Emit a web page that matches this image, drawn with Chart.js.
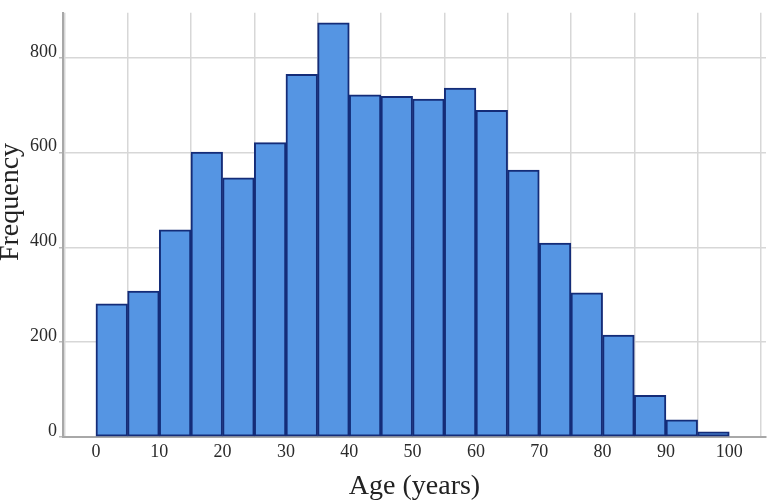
<!DOCTYPE html>
<html><head><meta charset="utf-8">
<script src="https://cdn.jsdelivr.net/npm/chart.js@4"></script>
<style>html,body{margin:0;padding:0;background:#fff}#wrap{width:771px;height:502px;position:relative}</style>
</head><body><div id="wrap"><canvas id="c"></canvas></div>
<script>
const binStarts = [0,5,10,15,20,25,30,35,40,45,50,55,60,65,70,75,80,85,90,95];
const binWidth = 5;
const frequencies = [281,308,437,601,547,621,765,874,722,719,713,736,689,563,409,304,215,88,36,11];
const xTickValues = [0,10,20,30,40,50,60,70,80,90,100];
const yTickValues = [0,200,400,600,800];
const xAxisTitle = 'Age (years)';
const yAxisTitle = 'Frequency';

const fontFamily = '"Liberation Serif", "DejaVu Serif", serif';
const points = binStarts.map((s, i) => ({ x: s + binWidth / 2, y: frequencies[i] }));

const yTitlePlugin = {
  id: 'yTitle',
  afterDraw(chart) {
    const ctx = chart.ctx;
    ctx.save();
    ctx.translate(11, 202);
    ctx.rotate(-Math.PI / 2);
    ctx.font = '28px ' + fontFamily;
    ctx.fillStyle = '#222';
    ctx.textAlign = 'center';
    ctx.textBaseline = 'middle';
    ctx.fillText(yAxisTitle, 0, 0);
    ctx.restore();
  }
};

new Chart(document.getElementById('c'), {
  type: 'bar',
  data: {
    datasets: [{
      data: points,
      backgroundColor: '#5595e3',
      borderColor: '#142c78',
      borderWidth: 2,
      borderSkipped: false,
      barPercentage: 1,
      categoryPercentage: 1
    }]
  },
  plugins: [yTitlePlugin],
  options: {
    responsive: true,
    maintainAspectRatio: false,
    animation: false,
    layout: { padding: { top: 2, right: 5, left: 0, bottom: 0 } },
    plugins: { legend: { display: false }, tooltip: { enabled: false } },
    scales: {
      x: {
        type: 'linear',
        min: -5.2,
        max: 105.8,
        offset: false,
        afterBuildTicks: s => { s.ticks = xTickValues.map(v => ({ value: v })); },
        afterFit: s => { s.height = 65; },
        ticks: { font: { family: fontFamily, size: 18 }, color: '#2a2a2a', padding: 4, maxRotation: 0, autoSkip: false },
        grid: { color: '#d7d7d7', lineWidth: 1.5, drawTicks: false },
        border: { color: '#a8a8a8', width: 2 },
        title: { display: true, text: xAxisTitle, color: '#222', font: { family: fontFamily, size: 28, lineHeight: 1.0 }, padding: { top: 0, bottom: 1 } }
      },
      y: {
        min: 0,
        max: 895,
        afterBuildTicks: s => { s.ticks = yTickValues.map(v => ({ value: v })); },
        afterFit: s => { s.width = 63; },
        ticks: { font: { family: fontFamily, size: 18 }, color: '#2a2a2a', padding: 2, labelOffset: -6 },
        grid: { color: '#d7d7d7', lineWidth: 1.5, tickLength: 4, tickColor: '#bbbbbb' },
        border: { color: '#a8a8a8', width: 2 },
        title: { display: false }
      }
    }
  }
});
</script>
</body></html>
